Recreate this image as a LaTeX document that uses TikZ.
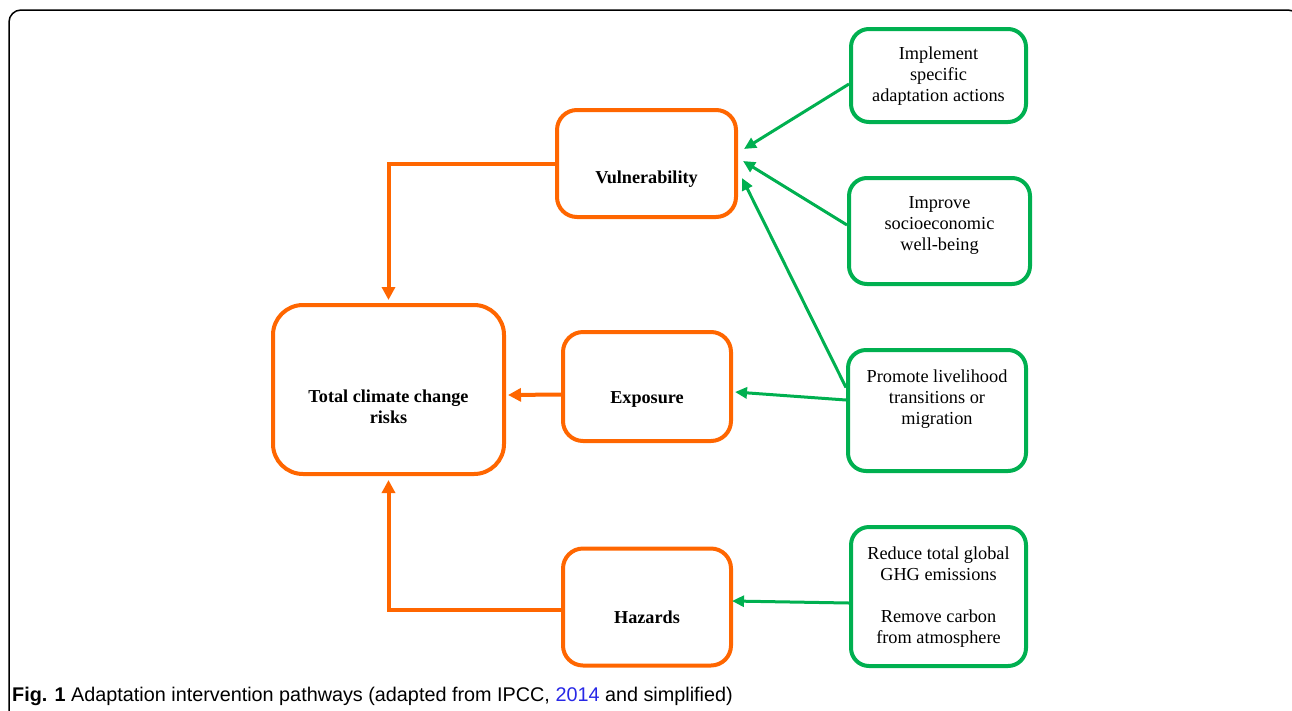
\documentclass[tikz,border=0pt]{standalone}
\usepackage{fontspec}
\setmainfont{Liberation Serif}
\newfontfamily\capfont{Liberation Sans}
\usetikzlibrary{arrows.meta,calc}
\definecolor{orng}{RGB}{255,102,0}
\definecolor{grn}{RGB}{0,176,80}
\definecolor{capblue}{RGB}{40,40,230}
\begin{document}
\begin{tikzpicture}[x=1pt,y=-1pt,
  obox/.style={draw=orng,line width=4pt,rounded corners=20pt,fill=white,inner sep=0pt},
  gbox/.style={draw=grn,line width=4pt,rounded corners=18pt,inner sep=0pt},
  otext/.style={font=\fontsize{18.2}{21}\selectfont\bfseries,align=center,inner sep=0pt},
  gtext/.style={font=\fontsize{18.3}{21}\selectfont,align=center,inner sep=0pt,anchor=north},
  oarrow/.style={draw=orng,line width=4pt,-{Triangle[length=13pt,width=13pt]}},
  garrow/.style={draw=grn,line width=3pt,-{Triangle[length=12pt,width=11pt]}},
]
\useasboundingbox (0,0) rectangle (1292,710);
\begin{scope}
\clip (0,0) rectangle (1292,710);
\draw[line width=1.5pt,rounded corners=12pt] (9,10) rectangle (1300,730);
\end{scope}

% orange boxes
\node[obox,minimum width=179pt,minimum height=107pt,
  label={[otext,yshift=-15.5pt]center:Vulnerability}] (vul) at (646.5,163.5) {};
\node[obox,rounded corners=30pt,minimum width=231pt,minimum height=169pt,
  label={[otext,yshift=-17pt]center:Total climate change\\risks}] (tot) at (388.5,389.5) {};
\node[obox,minimum width=168pt,minimum height=109pt,
  label={[otext,yshift=-13pt]center:Exposure}] (exp) at (647,386.5) {};
\node[obox,minimum width=168pt,minimum height=117pt,
  label={[otext,yshift=-10pt]center:Hazards}] (haz) at (647,607) {};

% green boxes
\node[gbox,minimum width=175pt,minimum height=93pt,
  label={[gtext,yshift=-20pt]north:Implement\\specific\\adaptation actions}] (imp) at (938.5,75.5) {};
\node[gbox,minimum width=181pt,minimum height=106pt,
  label={[gtext,yshift=-20pt]north:Improve\\socioeconomic\\well-being}] (soc) at (939.5,231) {};
\node[gbox,minimum width=178pt,minimum height=121pt,
  label={[gtext,yshift=-22pt]north:Promote livelihood\\transitions or\\migration}] (pro) at (937,410.5) {};
\node[gbox,minimum width=175pt,minimum height=139pt,
  label={[gtext,yshift=-22pt]north:Reduce total global\\GHG emissions\\[21pt]Remove carbon\\from atmosphere}] (red) at (938.5,596.5) {};

% green connectors
\draw[garrow] ($(imp.west)+(0,8.5)$) -- ($(vul.east)+(6,-14.5)$);
\draw[garrow] ($(soc.west)+(0,-6)$) -- ($(vul.east)+(5,-2.5)$);
\draw[garrow] ($(pro.west)+(0,-23)$) -- ($(vul.east)+(4,14.5)$);
\draw[garrow] ($(pro.west)+(0,-10.5)$) -- ($(exp.east)+(2,5.5)$);
\draw[garrow] ($(red.west)+(0,6.5)$) -- ($(haz.east)+(-1,-6)$);

% orange connectors
\draw[oarrow,shorten >=3pt] (vul.west) -| (tot.north);
\draw[oarrow] ($(exp.west)+(0,8)$) -- ($(tot.east)+(2,5.5)$);
\draw[oarrow,shorten >=4pt] ($(haz.west)+(0,3)$) -| (tot.south);

% caption
\node[anchor=base west,inner sep=0pt,font=\capfont\fontsize{19.8}{23}\selectfont] (cap) at (12,701)
  {\textbf{Fig. 1} Adaptation intervention pathways (adapted from IPCC, \textcolor{capblue}{2014} and simplified)};
\end{tikzpicture}
\end{document}
